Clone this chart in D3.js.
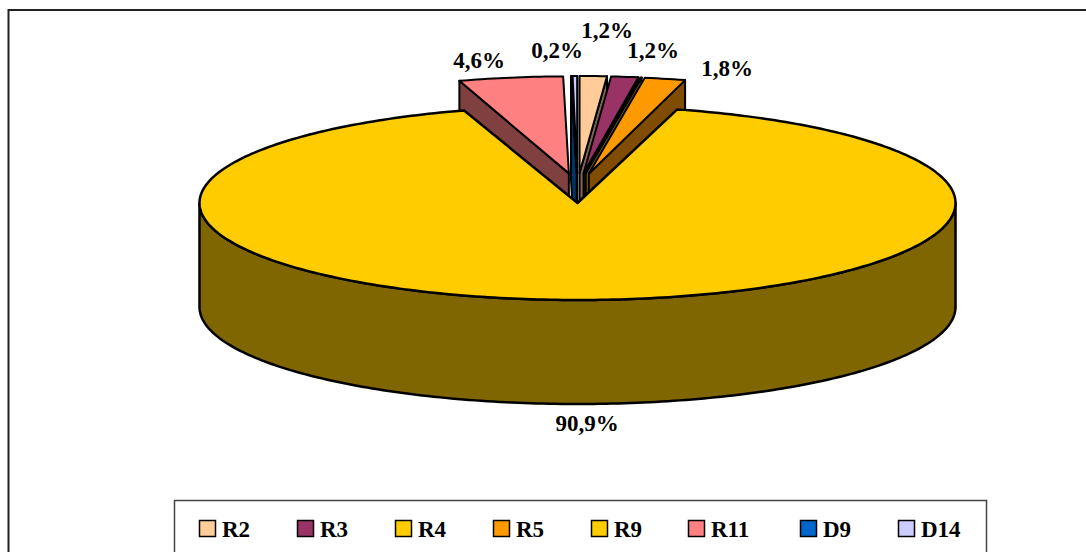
<!DOCTYPE html>
<html><head><meta charset="utf-8">
<script src="https://cdn.jsdelivr.net/npm/d3@7/dist/d3.min.js"></script>
<style>html,body{margin:0;padding:0;background:#fff}svg{display:block}text{font-family:"Liberation Serif",serif;font-weight:bold;fill:#000}</style>
</head><body><svg id="c" width="1086" height="552"></svg>
<script>
const categories=["R2","R3","R4","R5","R9","R11","D9","D14"];
const values=[1.2,1.2,0.05,1.8,90.9,4.6,0.05,0.2];
const labels=["1,2%","1,2%","","1,8%","90,9%","4,6%","","0,2%"];
const colors=["#FFCC99","#993366","#FFCC00","#FF9900","#FFCC00","#FF8080","#0066CC","#CCCCFF"];
const sideColors=["#806650","#4D1A33","#806600","#804D00","#806600","#804040","#003366","#666680"];

const svg=d3.select("#c");
const cx=577.5,cy=203,rx=378,ry=97,depth=104,xEx=54,yEx=30,rxEx=365;
svg.append("path").attr("d","M8.5,552V10H1086").attr("fill","none").attr("stroke","#222").attr("stroke-width",2);

const arcs=d3.pie().value(d=>d).sort(null)(values).map((a,i)=>({...a,i}));
const big=arcs[4];
const pt=(a,r,k,ox=0,oy=0,dz=0)=>[cx+ox+r*Math.sin(a),cy+oy-k*Math.cos(a)+dz];
const line=d3.line();
function sweep(a0,a1,r,k,ox,oy,dz){const n=Math.max(2,Math.ceil((a1-a0)*60));
  return d3.range(n+1).map(j=>pt(a0+(a1-a0)*j/n,r,k,ox,oy,dz));}
function draw(pts,fill,w){svg.append("path").attr("d",line(pts)+"Z").attr("fill",fill)
  .attr("stroke","#000").attr("stroke-width",w).attr("stroke-linejoin","round");}

const off=a=>{const m=(a.startAngle+a.endAngle)/2;return [xEx*Math.sin(m),-yEx*Math.cos(m)];};
function sliceWall(i){const a=arcs[i];const [ox,oy]=off(a);
  const e=i>=5?a.startAngle:a.endAngle;
  const tip=[cx+ox,cy+oy],rim=pt(e,rxEx,ry,ox,oy);
  draw([tip,rim,[rim[0],rim[1]+depth],[tip[0],tip[1]+depth]],sideColors[i],2);}
function sliceTop(i){const a=arcs[i];const [ox,oy]=off(a);
  draw([[cx+ox,cy+oy],...sweep(a.startAngle,a.endAngle,rxEx,ry,ox,oy,0)],colors[i],2);}

// painter's order: outermost on each side first, working in towards the face that shows
[5,7,6].forEach(i=>{sliceWall(i);sliceTop(i);});
sliceTop(7);
[0,1,2,3].forEach(i=>{sliceWall(i);sliceTop(i);});

// main slice: outer wall then top
draw([...sweep(Math.PI/2,Math.PI*1.5,rx,ry,0,0,0),...sweep(Math.PI/2,Math.PI*1.5,rx,ry,0,0,depth).reverse()],sideColors[4],2.5);
draw([[cx,cy],...sweep(big.startAngle,big.endAngle,rx,ry,0,0,0)],colors[4],2.5);

// data labels
const labelX=[607,653,0,727,587,479,0,557];
const labelY=[38,58,0,76,431,68,0,58];
svg.selectAll("text.l").data(labels).join("text").attr("class","l")
  .attr("x",(d,i)=>labelX[i]).attr("y",(d,i)=>labelY[i]).attr("text-anchor","middle")
  .attr("font-size",23).text(d=>d);

// legend
svg.append("rect").attr("x",174.5).attr("y",500.5).attr("width",812).attr("height",60).attr("fill","#fff").attr("stroke","#444").attr("stroke-width",1.5);
const legendX=[199,297,395,493,591,688,800,898];
const g=svg.selectAll("g.k").data(categories).join("g").attr("class","k").attr("transform",(d,i)=>`translate(${legendX[i]},520)`);
g.append("rect").attr("x",.5).attr("y",.5).attr("width",16).attr("height",16).attr("fill",(d,i)=>colors[i]).attr("stroke","#000").attr("stroke-width",1.5);
g.append("text").attr("x",23).attr("y",17).attr("font-size",23).text(d=>d);
</script></body></html>
